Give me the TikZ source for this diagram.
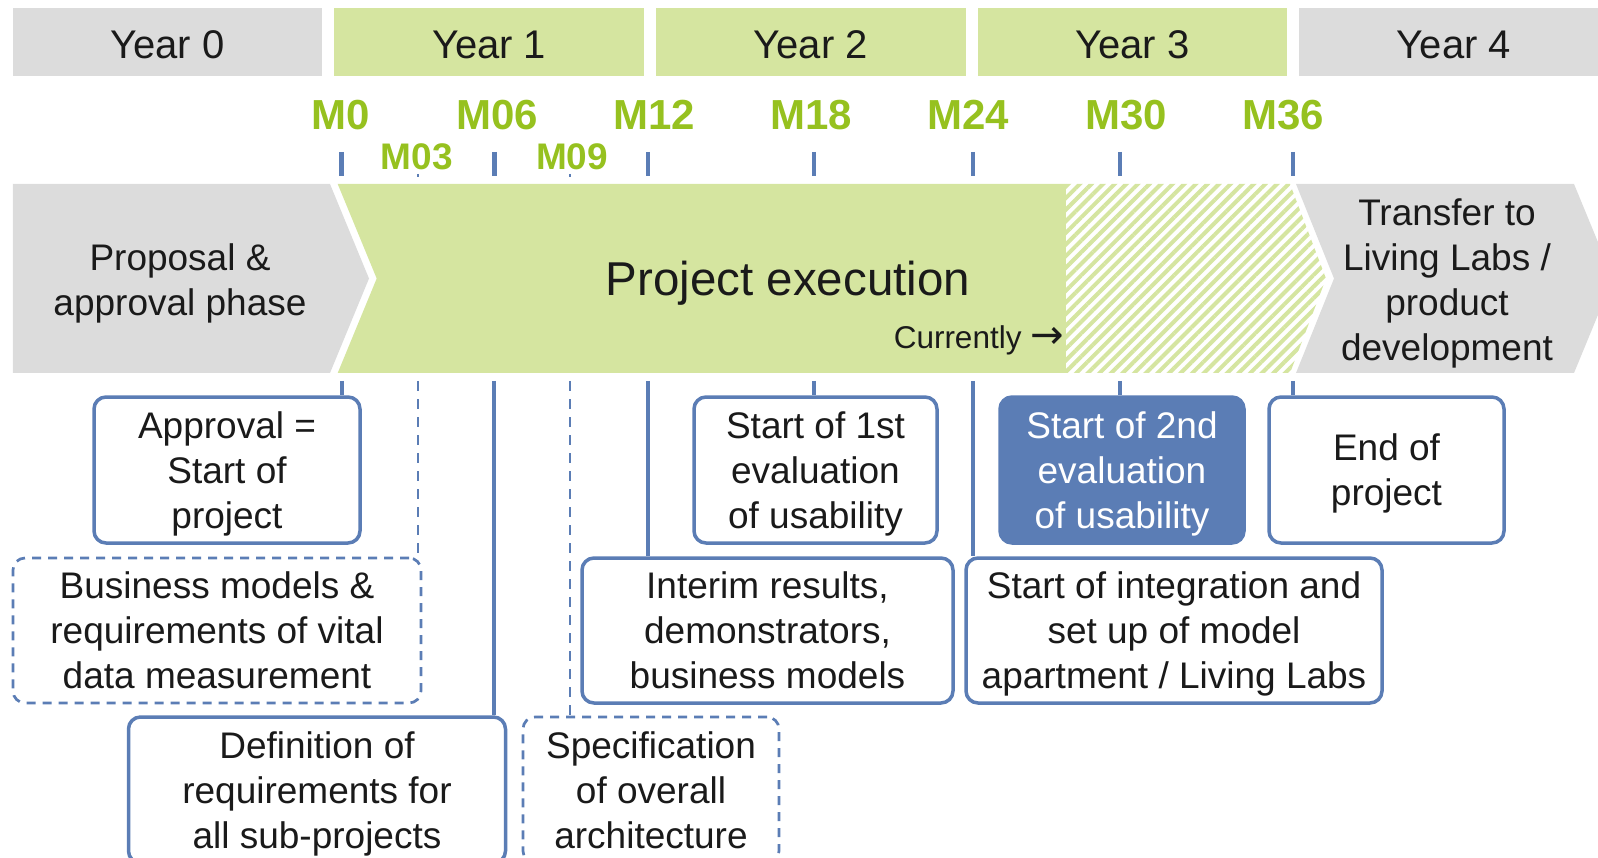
\documentclass[tikz,border=0pt]{standalone}
\usepackage{fontspec}
\setmainfont{Liberation Sans}
\newfontfamily\arrowfont{DejaVu Sans}
\usepackage{tikz}
\usetikzlibrary{patterns.meta}

\definecolor{ink}{HTML}{1A1A1A}
\definecolor{phasegray}{HTML}{DCDCDC}
\definecolor{phasegreen}{HTML}{D5E5A0}
\definecolor{msgreen}{HTML}{96C11F}
\definecolor{linkblue}{HTML}{5B7DB5}

\tikzset{
    yearbox/.style={minimum width=309.5, minimum height=67.4, inner sep=0pt, text height=33pt, text depth=0pt, text=ink, font=\fontsize{40}{48}\selectfont},
    mslabel/.style={anchor=base, inner sep=0pt, text=msgreen, font=\bfseries\fontsize{42}{50}\selectfont},
    mssmall/.style={mslabel, font=\bfseries\fontsize{37}{44}\selectfont},
    tick/.style={draw=linkblue, line width=4.5},
    link/.style={draw=linkblue, line width=4},
    planlink/.style={draw=linkblue, line width=2.7, dash pattern=on 10pt off 8pt},
    eventbox/.style={draw=linkblue, line width=3.5, rounded corners=12, fill=white, inner sep=0pt, align=center, text depth=0pt, text=ink, font=\fontsize{37}{45}\selectfont},
    planbox/.style={eventbox, line width=2.7, dash pattern=on 9pt off 7pt},
    keybox/.style={eventbox, fill=linkblue, text=white},
    bandtext/.style={align=center, inner sep=0pt, text depth=0pt, text=ink, font=\fontsize{37}{45}\selectfont},
}

\begin{document}
\begin{tikzpicture}[x=1pt, y=-1pt]
    \clip (0,0) rectangle (1598,858);

    \foreach \i/\c in {0/phasegray, 1/phasegreen, 2/phasegreen, 3/phasegreen, 4/phasegray}
        \node[yearbox, fill=\c] (year\i) at ({167.55+321.6*\i},42) {Year \i};

    \foreach \m/\x in {M0/340.5, M06/497, M12/654, M18/811, M24/968, M30/1126, M36/1283}
        \node[mslabel] (lab\m) at (\x,130) {\m};
    \node[mssmall] (labM03) at (416.7,170) {M03};
    \node[mssmall] (labM09) at (572,170) {M09};

    \foreach \m/\x in {0/341.5, 6/494.3, 12/648, 18/814, 24/973, 30/1120, 36/1293} {
        \coordinate (tick\m) at (\x,152);
        \coordinate (foot\m) at (\x,381);
        \draw[tick] (tick\m) -- ++(0,24);
    }
    \foreach \m/\x in {3/418, 9/570} {
        \coordinate (tick\m) at (\x,174);
        \coordinate (foot\m) at (\x,381);
        \draw[planlink] (tick\m) -- ++(0,3);
    }

    % phases
    \fill[phasegray] (12.8,184) -- (330,184) -- (369,278.5) -- (330,373) -- (12.8,373) -- cycle;
    \fill[phasegreen] (337.7,184) -- (1066,184) -- (1066,373) -- (337.7,373) -- (376.7,278.5) -- cycle;
    \fill[white] (1066,184) -- (1290,184) -- (1326,278.5) -- (1290,373) -- (1066,373) -- cycle;
    \path[pattern={Lines[angle=45, distance=8.2pt, line width=4pt]}, pattern color=phasegreen]
        (1066,184) -- (1290,184) -- (1326,278.5) -- (1290,373) -- (1066,373) -- cycle;
    \fill[phasegray] (1296,184) -- (1574,184) -- (1613,278.5) -- (1574,373) -- (1296,373) -- (1334,278.5) -- cycle;

    \node[bandtext] (proposal) at (180,280) {Proposal \&\\approval phase};
    \node[bandtext, font=\fontsize{47.5}{56}\selectfont] (execution) at (788,278) {Project execution};
    \node[anchor=base east, inner sep=0pt, text=ink, font=\fontsize{31.5}{36}\selectfont] (currently) at (1064,349) {Currently {\arrowfont\fontsize{40}{42}\selectfont →}};
    \node[bandtext] (transfer) at (1447,280) {Transfer to\\Living Labs /\\product\\development};

    % milestones
    \node[eventbox, minimum width=266, minimum height=146] (approval) at (227,470) {Approval =\\Start of\\project};
    \node[planbox, minimum width=408, minimum height=145] (business) at (217,630.5) {Business models \&\\requirements of vital\\data measurement};
    \node[eventbox, minimum width=377, minimum height=146] (definition) at (317,790) {Definition of\\requirements for\\all sub-projects};
    \node[planbox, minimum width=256, minimum height=146] (specification) at (651,790) {Specification\\of overall\\architecture};
    \node[eventbox, minimum width=371, minimum height=145] (interim) at (767.5,630.5) {Interim results,\\demonstrators,\\business models};
    \node[eventbox, minimum width=243, minimum height=146] (evalone) at (815.5,470) {Start of 1st\\evaluation\\of usability};
    \node[keybox, minimum width=244, minimum height=146] (evaltwo) at (1122,470) {Start of 2nd\\evaluation\\of usability};
    \node[eventbox, minimum width=235, minimum height=146] (projend) at (1386.5,470) {End of\\project};
    \node[eventbox, minimum width=416, minimum height=145] (integration) at (1174,630.5) {Start of integration and\\set up of model\\apartment / Living Labs};

    \draw[link] (foot0) -- (foot0 |- approval.north);
    \draw[planlink] (foot3) -- (foot3 |- business.north);
    \draw[link] (foot6) -- (foot6 |- definition.north);
    \draw[planlink] (foot9) -- (foot9 |- specification.north);
    \draw[link] (foot12) -- (foot12 |- interim.north);
    \draw[link] (foot18) -- (foot18 |- evalone.north);
    \draw[link] (foot24) -- (foot24 |- integration.north);
    \draw[link] (foot30) -- (foot30 |- evaltwo.north);
    \draw[link] (foot36) -- (foot36 |- projend.north);
\end{tikzpicture}
\end{document}
